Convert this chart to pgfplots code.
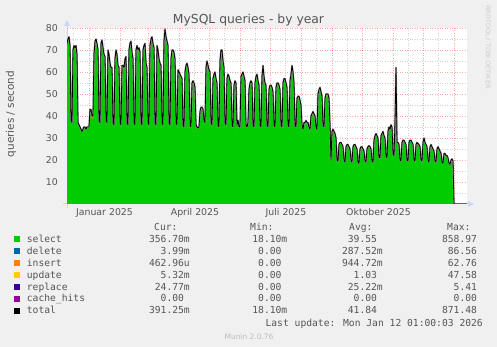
\documentclass[border=0pt]{standalone}
\usepackage{pgfplots}
\pgfplotsset{compat=1.18}
\usepackage{pgfplotstable}
\usepackage{fontspec}
\setmainfont{DejaVu Sans}
\newfontfamily\mono{DejaVu Sans Mono}
\definecolor{bg}{HTML}{F0F0F0}
\definecolor{txt}{HTML}{555555}
\definecolor{axiscol}{HTML}{CFD6F8}
\definecolor{selectc}{HTML}{00CC00}
\definecolor{deletec}{HTML}{0066B3}
\definecolor{insertc}{HTML}{FF8000}
\definecolor{updatec}{HTML}{FFCC00}
\definecolor{replacec}{HTML}{330099}
\definecolor{cachec}{HTML}{990099}
\definecolor{rrd}{HTML}{CCCCCC}
\definecolor{muninc}{HTML}{BBBBBB}
\definecolor{halo}{HTML}{9A9A9A}
\newcommand\legfont{\mono\fontsize{9.7}{10}\selectfont}

\pgfplotstableread{
d T S
-23 70 68.8
-22 73 71.8
-21 75 73.8
-20 76 74.8
-19 72 70.8
-18 38 37.4
-17 37 36.4
-16 70 68.8
-15 72 70.8
-14 71 69.8
-13 72 70.8
-12 68 66.8
-11 37 36.4
-10 36 35.4
-9 35 34.4
-8 34 33.4
-7 33 32.4
-6 34 33.4
-5 35 34.4
-4 35 34.4
-3 34 33.4
-2 35 34.4
-1 35 34.4
0 35 34.4
1 43 41.8
2 43 41.8
3 40 38.8
4 40 38.8
5 68 66.8
6 74 72.8
7 75 73.8
8 73 71.8
9 70 68.8
10 38 37.4
11 37 36.4
12 73 71.8
13 74.5 73.3
14 71 69.8
15 68 66.8
16 67 65.8
17 38 37.4
18 37 36.4
19 70 68.8
20 68 66.8
21 64 62.8
22 62 60.8
23 62 60.8
24 37 36.4
25 36 35.4
26 66 64.8
27 70 68.8
28 68 66.8
29 63 61.8
30 62 60.8
31 37 36.4
32 36 35.4
33 63 61.8
34 63 61.8
35 62 60.8
36 66 64.8
37 67 65.8
38 37 36.4
39 36 35.4
40 70 68.8
41 73 71.8
42 74 72.8
43 69 67.8
44 66 64.8
45 37 36.4
46 36 35.4
47 70 68.8
48 72 70.8
49 70 68.8
50 71 69.8
51 69 67.8
52 37 36.4
53 36 35.4
54 70 68.8
55 72 70.8
56 73 71.8
57 64 62.8
58 62 60.8
59 37 36.4
60 36 35.4
61 72 70.8
62 75 73.8
63 76 74.8
64 73 71.8
65 71 69.8
66 37 36.4
67 36 35.4
68 72 70.8
69 70 68.8
70 66 64.8
71 64 62.8
72 63 61.8
73 37 36.4
74 36 35.4
75 74 72.8
76 79.5 78.3
77 76 74.8
78 74 72.8
79 72 70.8
80 37 36.4
81 36 35.4
82 66 64.8
83 70 68.8
84 70 68.8
85 69 67.8
86 66 64.8
87 37 36.4
88 36 35.4
89 61 59.8
90 60 58.8
91 59 57.8
92 58 56.8
93 57 55.8
94 36 35.4
95 35 34.4
96 60 58.8
97 63 61.8
98 64 62.8
99 62 60.8
100 59 57.8
101 36 35.4
102 35 34.4
103 55 53.8
104 56 54.8
105 55 53.8
106 53 51.8
107 36 35.4
108 35 34.4
109 34.5 33.9
110 35 34.4
111 42 40.8
112 44 42.8
113 44 42.8
114 43 41.8
115 38 37.4
116 37 36.4
117 62 60.8
118 65 63.8
119 63 61.8
120 61 59.8
121 60 58.8
122 37 36.4
123 36 35.4
124 57 55.8
125 59 57.8
126 60 58.8
127 57 55.8
128 55 53.8
129 36 35.4
130 35 34.4
131 65 63.8
132 70 68.8
133 70 68.8
134 65 63.8
135 62 60.8
136 37 36.4
137 36 35.4
138 57 55.8
139 59 57.8
140 58 56.8
141 56 54.8
142 55 53.8
143 36 35.4
144 35 34.4
145 54 52.8
146 56 54.8
147 55 53.8
148 36 35.4
149 38 37.4
150 35 34.4
151 35 34.4
152 58 56.8
153 59 57.8
154 60 58.8
155 58 56.8
156 56 54.8
157 36 35.4
158 35 34.4
159 37 36.4
160 52 50.8
161 55 53.8
162 56 54.8
163 55 53.8
164 36 35.4
165 35 34.4
166 55 53.8
167 58 56.8
168 59 57.8
169 56 54.8
170 54 52.8
171 36 35.4
172 35 34.4
173 58 56.8
174 63 61.8
175 58 56.8
176 55 53.8
177 54 52.8
178 36 35.4
179 35 34.4
180 52 50.8
181 54 52.8
182 54 52.8
183 53 51.8
184 51 49.8
185 36 35.4
186 35 34.4
187 53 51.8
188 55 53.8
189 55 53.8
190 54 52.8
191 52 50.8
192 36 35.4
193 35 34.4
194 55 53.8
195 57 55.8
196 57 55.8
197 55 53.8
198 53 51.8
199 36 35.4
200 35 34.4
201 56 54.8
202 59 57.8
203 63 61.8
204 60 58.8
205 55 53.8
206 36 35.4
207 35 34.4
208 48 46.8
209 49 47.8
210 49 47.8
211 47 45.8
212 45 43.8
213 36 35.4
214 34 33.4
215 37 36.4
216 37 36.4
217 38 36.8
218 37 36.4
219 37 36.4
220 35 34.4
221 34 33.4
222 40 38.8
223 41 39.8
224 42 40.8
225 41 39.8
226 40 38.8
227 35 34.4
228 34 33.4
229 50 48.8
230 52 50.8
231 53 51.8
232 51 49.8
233 49 47.8
234 36 35.4
235 35 34.4
236 48 46.8
237 50 48.8
238 50 48.8
239 50 48.8
240 48 46.8
241 36 35.4
242 20 19.5
243 33 32.2
244 34 33.2
245 33 32.2
246 32 31.2
247 30 29.2
248 20 19.5
249 19.5 19
250 27 26.2
251 28 27.2
252 28 27.2
253 27 26.2
254 26 25.2
255 20 19.5
256 19 18.5
257 26 25.2
258 27 26.2
259 27 26.2
260 26 25.2
261 25 24.2
262 20 19.5
263 19 18.5
264 26 25.2
265 27 26.2
266 27 26.2
267 26 25.2
268 25 24.2
269 19 18.5
270 18.5 18
271 25 24.2
272 26 25.2
273 26 25.2
274 25 24.2
275 24 23.2
276 19.5 19
277 19 18.5
278 25 24.2
279 26 25.2
280 26.5 25.7
281 26 25.2
282 25 24.2
283 19.5 19
284 19 18.5
285 29 28.2
286 31 30.2
287 32 31.2
288 31 30.2
289 30 29.2
290 21 20.5
291 21 20.5
292 31 30.2
293 32 31.2
294 33 32.2
295 31 30.2
296 30 29.2
297 22 21.5
298 21 20.5
299 33 32.2
300 35 34.2
301 34 33.2
302 36 35.2
303 35 34.2
304 23 22.5
305 22 21.5
306 37 36.2
307 62 61
308 28 27.2
309 28 27.2
310 27 26.2
311 20 19.5
312 19.5 19
313 28 27.2
314 29 28.2
315 29 28.2
316 28 27.2
317 27 26.2
318 20 19.5
319 19.5 19
320 28 27.2
321 29 28.2
322 29 28.2
323 28 27.2
324 27 26.2
325 20 19.5
326 19.5 19
327 27 26.2
328 28 27.2
329 27.5 26.7
330 27 26.2
331 26 25.2
332 20 19.5
333 19.5 19
334 28 27.2
335 30 29.2
336 28 27.2
337 27 26.2
338 26 25.2
339 20 19.5
340 19 18.5
341 26 25.2
342 27 26.2
343 26 25.2
344 25 24.2
345 24 23.2
346 19.5 19
347 19 18.5
348 25 24.2
349 26 25.2
350 25 24.2
351 24 23.2
352 23 22.2
353 19 18.5
354 18.5 18
355 23 22.2
356 23 22.2
357 22 21.2
358 22 21.2
359 21 20.2
360 18.5 18
361 18 17.5
362 20 19.5
363 20.5 20
364 19.5 19
365 0 0
378 0 0
}\data

\newcommand\legval[3]{\node[anchor=base east, inner sep=0pt, font=\legfont, text=txt] at (#1bp,#2bp) {#3};}
\newcommand\legrow[7]{%
  \fill[#1] (14bp,#2bp) rectangle (20bp,#2bp+6bp);
  \node[anchor=base west, inner sep=0pt, font=\legfont, text=txt] at (26.7bp,#2bp) {#3};
  \legval{190}{#2}{#4}\legval{287.5}{#2}{#5}\legval{383}{#2}{#6}\legval{483}{#2}{#7}}
\newcommand\nou{\phantom{m}}

\begin{document}
\begin{tikzpicture}
\useasboundingbox (0,0) rectangle (497bp,347bp);
\fill[bg] (0,0) rectangle (497bp,347bp);
\fill[white] (67bp,143bp) rectangle (467bp,319bp);
% axis lines
\draw[axiscol, line width=1bp] (63bp,143bp) -- (469bp,143bp);
\fill[axiscol] (474bp,143bp) -- (468bp,146bp) -- (468bp,140bp) -- cycle;
\draw[axiscol, line width=1bp] (67bp,139bp) -- (67bp,322bp);
\fill[axiscol] (67bp,327bp) -- (64bp,321bp) -- (70bp,321bp) -- cycle;

\begin{axis}[
  at={(67bp,143bp)}, anchor=south west, scale only axis,
  width=400bp, height=176bp,
  xmin=-22, xmax=378, ymin=0, ymax=80,
  axis line style={draw=none}, tick style={draw=none},
  xtick={0,31,59,90,120,151,181,212,243,273,304,334,365}, xticklabels={},
  minor xtick={-16,15,45,74,105,135,166,196,227,258,288,319,349},
  ytick={10,20,...,80}, minor ytick={5,15,...,75},
  grid=both,
  major grid style={red, opacity=0.35, dash pattern=on 1bp off 1.5bp, line width=0.7bp},
  minor grid style={black!45, opacity=0.4, dash pattern=on 1bp off 1.5bp, line width=0.7bp},
  extra x ticks={15.5,106,197,289.5},
  extra x tick labels={Januar 2025,April 2025,Juli 2025,Oktober 2025},
  extra x tick style={grid=none},
  tick label style={font=\fontsize{9.4}{11}\selectfont, text=txt},
  /pgf/number format/assume math mode=true,
  xticklabel style={anchor=north, inner sep=0pt, yshift=-4bp},
  yticklabel style={anchor=east, inner sep=0pt, xshift=-9bp},
]
\addplot[draw=none, fill=insertc] table[x=d, y=T] {\data} \closedcycle;
\addplot[draw=none, fill=selectc] table[x=d, y=S] {\data} \closedcycle;
\addplot[halo, line width=1.6bp, line join=round] table[x=d, y=T] {\data};
\addplot[black, line width=0.8bp, line join=round] table[x=d, y=T] {\data};
\end{axis}

\node[anchor=base, inner sep=0pt, font=\fontsize{12.4}{14}\selectfont, text=txt] at (248.5bp,323bp) {MySQL queries - by year};
\node[rotate=90, inner sep=0pt, font=\fontsize{10.5}{12}\selectfont, text=txt] at (11bp,233bp) {queries / second};
\node[rotate=-90, anchor=west, inner sep=0pt, font=\fontsize{6.5}{7}\selectfont, text=rrd] at (488bp,342bp) {RRDTOOL / TOBI OETIKER};

% legend
\node[anchor=base west, inner sep=0pt, font=\legfont, text=txt] at (154bp,116.3bp) {Cur:};
\node[anchor=base west, inner sep=0pt, font=\legfont, text=txt] at (250bp,116.3bp) {Min:};
\node[anchor=base west, inner sep=0pt, font=\legfont, text=txt] at (349bp,116.3bp) {Avg:};
\node[anchor=base west, inner sep=0pt, font=\legfont, text=txt] at (447bp,116.3bp) {Max:};
\legrow{selectc}{104.5}{select}{356.70m}{18.10m}{39.55\nou}{858.97\nou}
\legrow{deletec}{92.6}{delete}{3.99m}{0.00\nou}{287.52m}{86.56\nou}
\legrow{insertc}{80.7}{insert}{462.96u}{0.00\nou}{944.72m}{62.76\nou}
\legrow{updatec}{68.8}{update}{5.32m}{0.00\nou}{1.03\nou}{47.58\nou}
\legrow{replacec}{56.9}{replace}{24.77m}{0.00\nou}{25.22m}{5.41\nou}
\legrow{cachec}{45}{cache\_hits}{0.00\nou}{0.00\nou}{0.00\nou}{0.00\nou}
\legrow{black}{33.1}{total}{391.25m}{18.10m}{41.84\nou}{871.48\nou}
\node[anchor=base east, inner sep=0pt, font=\legfont, text=txt] at (483bp,21bp) {Last update: Mon Jan 12 01:00:03 2026};
\node[anchor=base, inner sep=0pt, font=\fontsize{7.5}{8}\selectfont, text=muninc] at (249bp,7.7bp) {Munin 2.0.76};
\end{tikzpicture}
\end{document}
